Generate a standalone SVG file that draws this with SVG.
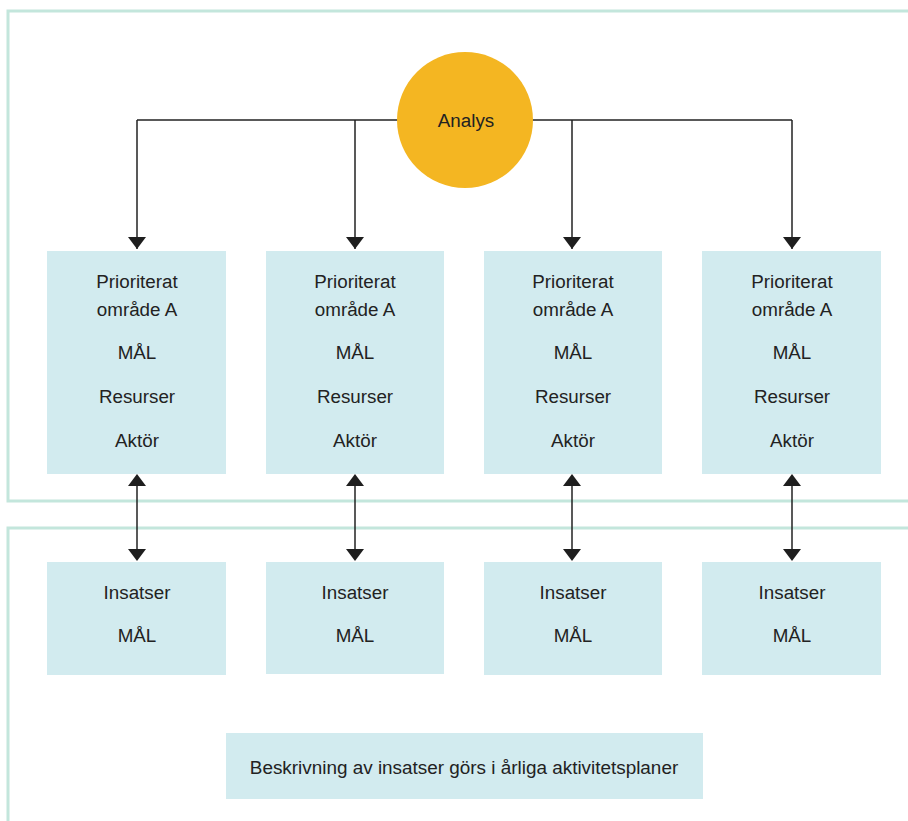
<svg xmlns="http://www.w3.org/2000/svg" width="908" height="821" viewBox="0 0 908 821">
  <defs>
    <style>
      .frame { fill: none; stroke: #c3e6dc; stroke-width: 3; }
      .box { fill: #d2ebef; }
      .conn { fill: none; stroke: #222; stroke-width: 1.5; }
      text { font-family: "Liberation Sans", Arial, sans-serif; font-size: 18.8px; fill: #222; text-anchor: middle; }
    </style>
    <marker id="ahs" markerUnits="userSpaceOnUse" markerWidth="20" markerHeight="20" viewBox="0 0 20 20" refX="12" refY="10" orient="auto">
      <path d="M0,1 L12,10 L0,19 Z" fill="#1e1e1e"/>
    </marker>
  </defs>
  <rect width="908" height="821" fill="#ffffff"/>
  <g id="frames">
    <path class="frame" d="M908,11 H8 V501 H908"/>
    <path class="frame" d="M908,528 H8 V821"/>
  </g>
  <g id="connectors">
    <path class="conn" d="M137,120 H792"/>
    <path class="conn" d="M137,120 V249" marker-end="url(#ahs)"/>
    <path class="conn" d="M355,120 V249" marker-end="url(#ahs)"/>
    <path class="conn" d="M572,120 V249" marker-end="url(#ahs)"/>
    <path class="conn" d="M792,120 V249" marker-end="url(#ahs)"/>
    <path class="conn" d="M137,486 V549"/>
    <path class="conn" d="M355,486 V549"/>
    <path class="conn" d="M572,486 V549"/>
    <path class="conn" d="M792,486 V549"/>
    <g fill="#1e1e1e">
      <path d="M137,474 L146,486 L128,486 Z"/>
      <path d="M137,561 L146,549 L128,549 Z"/>
      <path d="M355,474 L364,486 L346,486 Z"/>
      <path d="M355,561 L364,549 L346,549 Z"/>
      <path d="M572,474 L581,486 L563,486 Z"/>
      <path d="M572,561 L581,549 L563,549 Z"/>
      <path d="M792,474 L801,486 L783,486 Z"/>
      <path d="M792,561 L801,549 L783,549 Z"/>
    </g>
  </g>
  <g id="analys">
    <circle cx="465" cy="120" r="68" fill="#f4b622"/>
    <text x="466" y="127">Analys</text>
  </g>
  <g id="omrade1">
    <rect class="box" x="47" y="251" width="179" height="223"/>
    <text x="137" y="288">Prioriterat</text>
    <text x="137" y="316">område A</text>
    <text x="137" y="359">MÅL</text>
    <text x="137" y="403">Resurser</text>
    <text x="137" y="447">Aktör</text>
  </g>
  <g id="omrade2">
    <rect class="box" x="266" y="251" width="178" height="223"/>
    <text x="355" y="288">Prioriterat</text>
    <text x="355" y="316">område A</text>
    <text x="355" y="359">MÅL</text>
    <text x="355" y="403">Resurser</text>
    <text x="355" y="447">Aktör</text>
  </g>
  <g id="omrade3">
    <rect class="box" x="484" y="251" width="178" height="223"/>
    <text x="573" y="288">Prioriterat</text>
    <text x="573" y="316">område A</text>
    <text x="573" y="359">MÅL</text>
    <text x="573" y="403">Resurser</text>
    <text x="573" y="447">Aktör</text>
  </g>
  <g id="omrade4">
    <rect class="box" x="702" y="251" width="179" height="223"/>
    <text x="792" y="288">Prioriterat</text>
    <text x="792" y="316">område A</text>
    <text x="792" y="359">MÅL</text>
    <text x="792" y="403">Resurser</text>
    <text x="792" y="447">Aktör</text>
  </g>
  <g id="insats1">
    <rect class="box" x="47" y="562" width="179" height="113"/>
    <text x="137" y="599">Insatser</text>
    <text x="137" y="642">MÅL</text>
  </g>
  <g id="insats2">
    <rect class="box" x="266" y="562" width="178" height="112"/>
    <text x="355" y="599">Insatser</text>
    <text x="355" y="642">MÅL</text>
  </g>
  <g id="insats3">
    <rect class="box" x="484" y="562" width="178" height="113"/>
    <text x="573" y="599">Insatser</text>
    <text x="573" y="642">MÅL</text>
  </g>
  <g id="insats4">
    <rect class="box" x="702" y="562" width="179" height="113"/>
    <text x="792" y="599">Insatser</text>
    <text x="792" y="642">MÅL</text>
  </g>
  <g id="beskrivning">
    <rect class="box" x="226" y="733" width="477" height="66"/>
    <text x="464" y="774" style="font-size:18.9px">Beskrivning av insatser görs i årliga aktivitetsplaner</text>
  </g>
</svg>
